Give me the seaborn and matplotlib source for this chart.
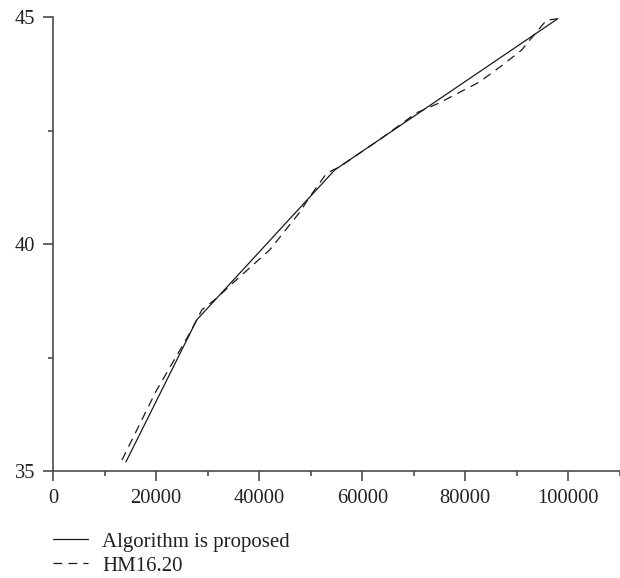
import matplotlib
matplotlib.use("Agg")
import matplotlib.pyplot as plt
import seaborn as sns
import pandas as pd
from matplotlib.ticker import MultipleLocator

# Data
proposed_x = [14150, 27900, 54650, 97900]
proposed_y = [35.20, 38.33, 41.63, 44.96]

hm_x = [13370, 20000, 26550, 28880, 31780, 34880, 42050, 47870, 49810,
        53100, 55620, 63370, 70540, 75000, 82750, 87210, 90890, 93800,
        95740, 97870]
hm_y = [35.24, 36.76, 38.04, 38.55, 38.81, 39.14, 39.87, 40.70, 41.04,
        41.56, 41.70, 42.30, 42.89, 43.11, 43.57, 43.94, 44.27, 44.67,
        44.93, 44.96]

labels = ["Algorithm is proposed", "HM16.20"]
x_ticks = [0, 20000, 40000, 60000, 80000, 100000]
y_ticks = [35, 40, 45]

sns.set_style("ticks")
plt.rcParams["font.family"] = ["Liberation Serif", "DejaVu Serif"]

fig = plt.figure(figsize=(6.2, 5.78), dpi=100)
ax = fig.add_axes([53 / 620, 107 / 578, 567 / 620, 454 / 578])

df1 = pd.DataFrame({"x": proposed_x, "y": proposed_y})
df2 = pd.DataFrame({"x": hm_x, "y": hm_y})

sns.lineplot(data=df1, x="x", y="y", ax=ax, color="#1a1a1a", lw=0.9,
             label=labels[0], sort=False)
sns.lineplot(data=df2, x="x", y="y", ax=ax, color="#1a1a1a", lw=0.9,
             label=labels[1], sort=False, dashes=False)
ax.lines[1].set_dashes([7, 5])

ax.set_xlim(0, 110000)
ax.set_ylim(35, 45)
ax.set_xticks(x_ticks)
ax.set_xticklabels([str(v) for v in x_ticks])
ax.set_yticks(y_ticks)
ax.set_yticklabels([str(v) for v in y_ticks])
ax.xaxis.set_minor_locator(MultipleLocator(10000))
ax.yaxis.set_minor_locator(MultipleLocator(2.5))
ax.set_xlabel("")
ax.set_ylabel("")

spine_col = "#4d4d4d"
for s in ["top", "right"]:
    ax.spines[s].set_visible(False)
for s in ["left", "bottom"]:
    ax.spines[s].set_color(spine_col)
    ax.spines[s].set_linewidth(1.2)

ax.tick_params(axis="both", which="major", direction="out", length=7,
               width=1.2, color=spine_col, labelsize=14.8, labelcolor="#222222",
               pad=6)
ax.tick_params(axis="both", which="minor", direction="out", length=3.5,
               width=1.2, color=spine_col)

ax.legend_.remove()
h, l = ax.get_legend_handles_labels()
fig.legend(h, l, loc="upper left", bbox_to_anchor=(53 / 620, 1 - 532 / 578),
           frameon=False, fontsize=15, borderpad=0, borderaxespad=0,
           handlelength=1.7, handletextpad=0.65, labelspacing=0.22,
           labelcolor="#222222")

fig.savefig("out.png", dpi=100, facecolor="white")
